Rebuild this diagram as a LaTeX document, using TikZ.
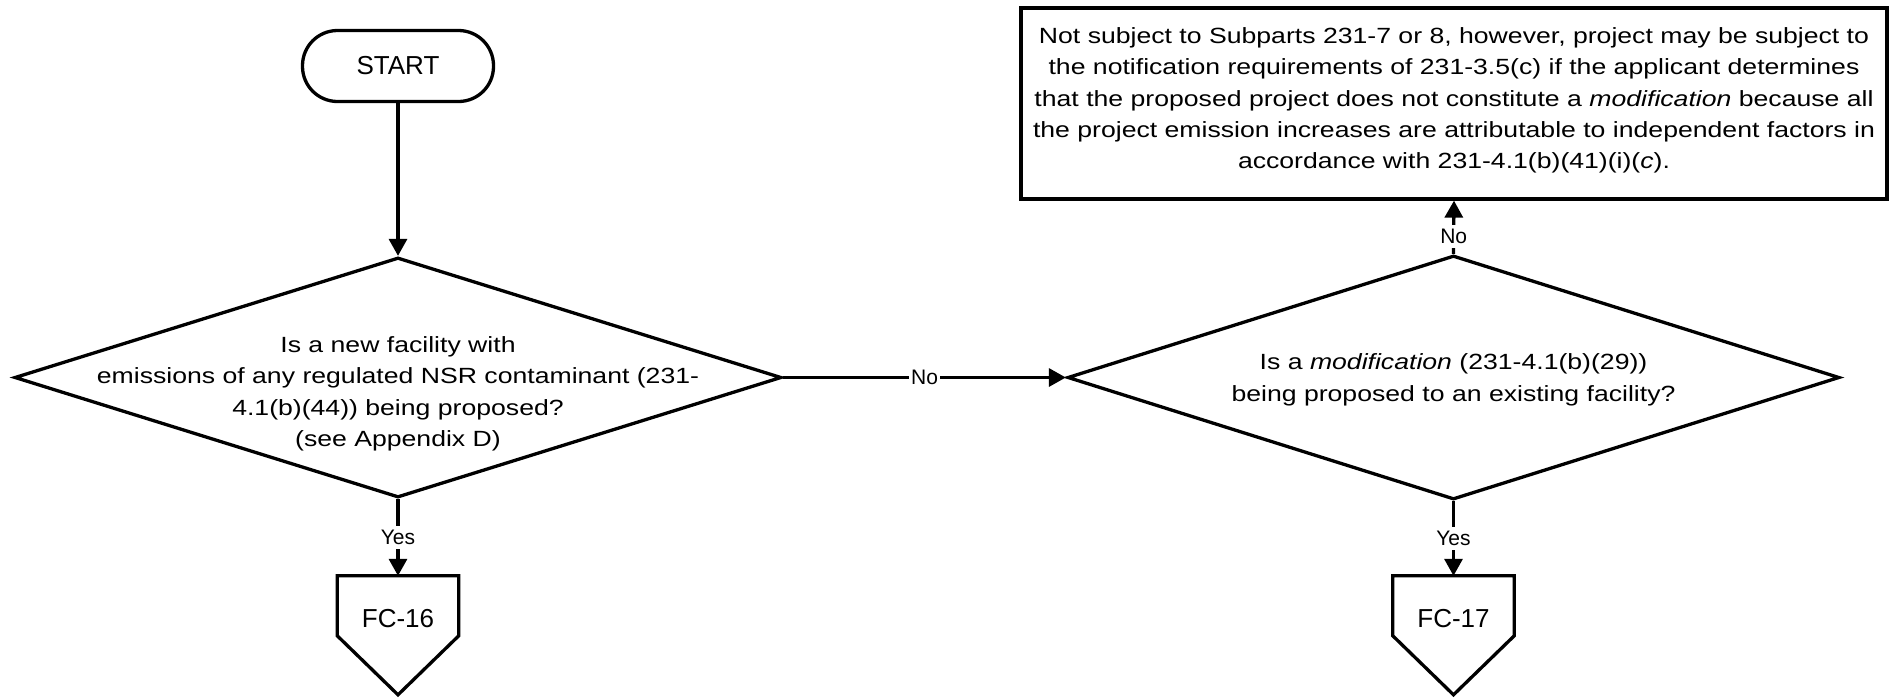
\documentclass[tikz,border=0pt]{standalone}
\usepackage{fontspec}
\setmainfont{Liberation Sans}
\newfontfamily\widesans{Liberation Sans}[FakeStretch=1.21]
\usetikzlibrary{shapes.geometric,arrows.meta,calc}

\begin{document}
\begin{tikzpicture}[x=1pt,y=-1pt,
  bodytext/.style={font=\widesans\fontsize{22pt}{31.4pt}\selectfont, align=center, inner sep=0pt},
  terminal/.style={draw, line width=3.3pt, rectangle, rounded corners=35pt,
    minimum width=191pt, minimum height=71pt, inner sep=0pt,
    font=\fontsize{26pt}{30pt}\selectfont},
  decision/.style={draw, diamond, line width=3.3pt, inner sep=0pt},
  process/.style={draw, rectangle, line width=3.3pt, inner sep=0pt},
  offpage/.style={rectangle, inner sep=0pt, minimum width=121pt, minimum height=86pt,
    font=\fontsize{26pt}{30pt}\selectfont},
  outline/.style={line width=3.3pt, line join=miter},
  flow/.style={line width=3.3pt, -{Triangle[width=18pt,length=17pt]}},
  answer/.style={fill=white, inner xsep=2pt, inner ysep=4pt,
    font=\fontsize{21pt}{24pt}\selectfont}
]
\useasboundingbox (0,0) rectangle (1893,697);

% start terminal
\node[terminal] (start) at (398,66) {START};

% first decision
\node[decision, minimum width=767pt, minimum height=240pt] (q1) at (398,377.5) {};
\node[bodytext] (q1text) at (398,394) {Is a new facility with\\
  emissions of any regulated NSR contaminant (231-\\
  4.1(b)(44)) being proposed?\\
  (see Appendix D)};

% second decision
\node[decision, minimum width=772pt, minimum height=244pt] (q2) at (1453.5,377.5) {};
\node[bodytext] (q2text) at (1453.5,380) {Is a \textit{modification} (231-4.1(b)(29))\\
  being proposed to an existing facility?};

% outcome box
\node[process, minimum width=866pt, minimum height=191pt] (notsub) at (1454,103.5) {};
\node[bodytext] (notsubtext) at (1454,100.5) {Not subject to Subparts 231-7 or 8, however, project may be subject to\\
  the notification requirements of 231-3.5(c) if the applicant determines\\
  that the proposed project does not constitute a \textit{modification} because all\\
  the project emission increases are attributable to independent factors in\\
  accordance with 231-4.1(b)(41)(i)(\textit{c}).};

% off-page connectors
\node[offpage] (fc16) at (398,619) {FC-16};
\node[offpage] (fc17) at (1453.5,619) {FC-17};
\foreach \n in {fc16,fc17}{
  \draw[outline] (\n.north west) -- (\n.north east) -- ($(\n.north east)+(0,60)$)
    -- ($(\n.north)+(0,119)$) -- ($(\n.north west)+(0,60)$) -- cycle;
}

% connectors
\draw[flow] (start.south) -- (q1.north);
\draw[flow] (q1.east) -- node[answer] {No} (q2.west);
\draw[flow] (q1.south) -- node[answer] {Yes} (fc16.north);
\draw[flow] (q2.south) -- node[answer] {Yes} (fc17.north);
\draw[flow] (q2.north) -- node[answer, pos=0.33] {No} (notsub.south);
\end{tikzpicture}
\end{document}
